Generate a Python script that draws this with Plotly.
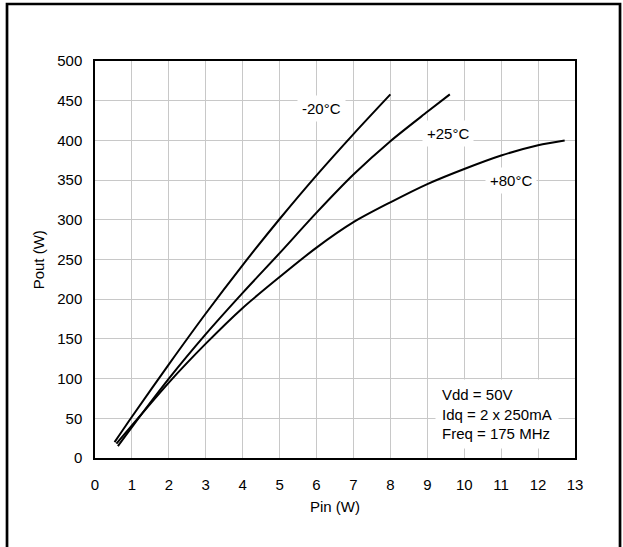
import plotly.graph_objects as go

# Pin (W) / Pout (W) for each case temperature
pin_m20 = [0.53, 1.0, 2.0, 3.0, 4.0, 5.0, 6.0, 7.0, 8.0]
pout_m20 = [20, 52, 118, 182, 243, 301, 356, 408, 458]

pin_p25 = [0.62, 1.0, 2.0, 3.0, 4.0, 5.0, 6.0, 7.0, 8.0, 9.0, 9.61]
pout_p25 = [15, 39, 100, 156, 208, 258, 309, 357, 399, 436, 458]

pin_p80 = [0.58, 1.0, 2.0, 3.0, 4.0, 5.0, 6.0, 7.0, 8.0, 9.0, 10.0, 11.0, 12.0, 12.72]
pout_p80 = [18, 41, 95, 144, 189, 228, 265, 297, 322, 345, 364, 381, 394, 400]

series_labels = ["-20°C", "+25°C", "+80°C"]
label_x = [6.14, 9.57, 11.26]
label_y = [440, 409, 349]

x_ticks = list(range(0, 14))
y_ticks = list(range(0, 501, 50))

conditions = ["Vdd = 50V", "Idq = 2 x 250mA", "Freq = 175 MHz"]

FONT = "Liberation Sans, Arial, sans-serif"
FS = 15

fig = go.Figure()
for xs, ys in [(pin_m20, pout_m20), (pin_p25, pout_p25), (pin_p80, pout_p80)]:
    fig.add_trace(go.Scatter(x=xs, y=ys, mode="lines",
                             line=dict(color="black", width=2, shape="spline", smoothing=0.8),
                             showlegend=False, hoverinfo="skip"))

for t, lx, ly in zip(series_labels, label_x, label_y):
    fig.add_annotation(x=lx, y=ly, text=t, showarrow=False, bgcolor="white",
                       borderpad=4, font=dict(family=FONT, size=FS, color="black"))

fig.add_annotation(x=9.2, y=55, xanchor="left", yanchor="middle", text="<br>".join(conditions),
                   align="left", showarrow=False, bgcolor="white", borderpad=6,
                   font=dict(family=FONT, size=FS, color="black"))

# axis titles
fig.add_annotation(xref="paper", yref="paper", x=0.5, y=-0.122, text="Pin (W)", showarrow=False,
                   yanchor="middle", font=dict(family=FONT, size=FS, color="black"))
fig.add_annotation(xref="paper", yref="paper", x=-0.117, y=0.5, text="Pout (W)", showarrow=False,
                   textangle=-90, xanchor="center", font=dict(family=FONT, size=FS, color="black"))

# outer frame (open at bottom)
x0, x1, yt, yb = -0.1833, 1.0938, 1.1436, -0.4
fig.add_shape(type="path", xref="paper", yref="paper",
              path=f"M {x0} {yb} L {x0} {yt} L {x1} {yt} L {x1} {yb}",
              line=dict(color="black", width=2.7))

fig.update_xaxes(range=[0, 13], tickvals=x_ticks, showgrid=True, gridcolor="#c8c8c8", gridwidth=1,
                 showline=True, mirror=True, linecolor="black", linewidth=1.5, zeroline=False,
                 ticks="", ticklabelstandoff=12, tickfont=dict(family=FONT, size=FS, color="black"),
                 fixedrange=True)
fig.update_yaxes(range=[0, 500], tickvals=y_ticks, showgrid=True, gridcolor="#c8c8c8", gridwidth=1,
                 showline=True, mirror=True, linecolor="black", linewidth=1.5, zeroline=False,
                 ticks="", ticklabelstandoff=8, tickfont=dict(family=FONT, size=FS, color="black"),
                 fixedrange=True)

fig.update_layout(width=623, height=547, margin=dict(l=95, r=48, t=61, b=89),
                  paper_bgcolor="white", plot_bgcolor="white",
                  font=dict(family=FONT, size=FS, color="black"))

fig.write_html("out.html", config={"displayModeBar": False},
               post_script="document.body.style.margin='0';document.body.style.overflow='hidden';")
